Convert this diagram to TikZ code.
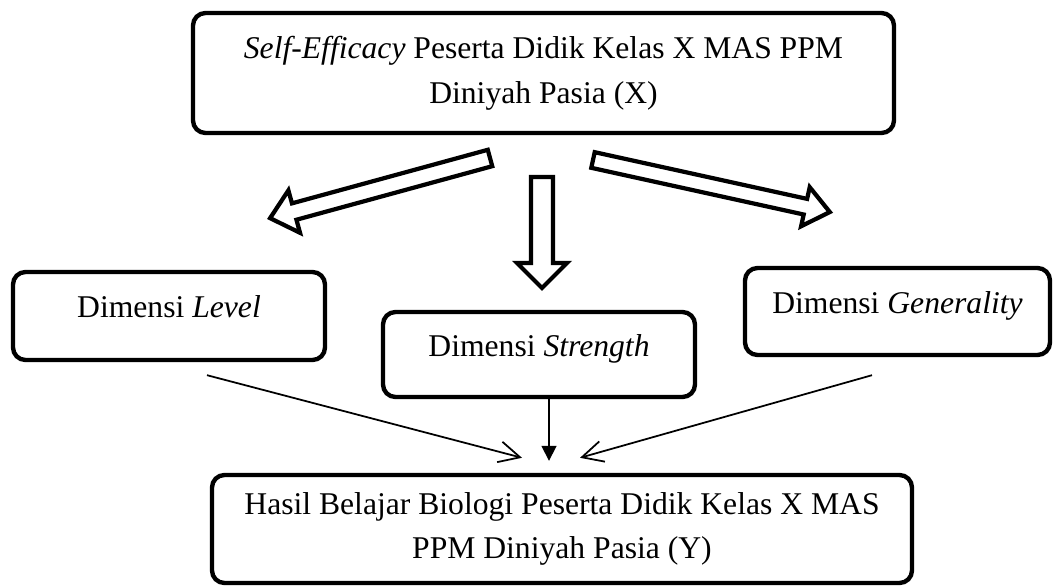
\documentclass[tikz,border=0pt]{standalone}
\usepackage{fontspec}
\setmainfont{Liberation Serif}
\usepackage{tikz}
\usetikzlibrary{arrows.meta}

\tikzset{
  box/.style={draw, rounded corners=0.25cm, line width=2.5pt, align=center, inner sep=0pt,
              font=\fontsize{18}{25.5}\selectfont},
  dimbox/.style={box, text height=12pt, text depth=10pt},
  hollow/.style={draw, line width=2.4pt, fill=white},
  thin/.style={line width=1pt}
}

\begin{document}
\begin{tikzpicture}
  \useasboundingbox (0,0) rectangle (21.06,11.74);

  \node[box, minimum width=14.02cm, minimum height=2.4cm] (x) at (10.87,10.28)
    {\textit{Self-Efficacy} Peserta Didik Kelas X MAS PPM\\ Diniyah Pasia (X)};

  \node[dimbox, minimum width=6.24cm, minimum height=1.76cm] (level) at (3.38,5.42) {Dimensi \textit{Level}};
  \node[dimbox, minimum width=6.24cm, minimum height=1.70cm] (strength) at (10.78,4.65) {Dimensi \textit{Strength}};
  \node[dimbox, minimum width=6.10cm, minimum height=1.74cm] (generality) at (17.95,5.51) {Dimensi \textit{Generality}};

  \node[box, minimum width=14.0cm, minimum height=2.16cm] (y) at (11.24,1.16)
    {Hasil Belajar Biologi Peserta Didik Kelas X MAS\\ PPM Diniyah Pasia (Y)};

  % hollow arrows under the top box
  \foreach \tx/\ty/\ang/\len/\sw/\hw in {9.80/8.58/195.3/4.56/0.17/0.44, 10.84/8.20/-90/2.22/0.22/0.5, 11.86/8.54/-12.4/4.85/0.16/0.4}
    \draw[hollow, shift={(\tx,\ty)}, rotate=\ang] (0,-\sw) -- (\len-0.5,-\sw) -- (\len-0.5,-\hw) -- (\len,0)
      -- (\len-0.5,\hw) -- (\len-0.5,\sw) -- (0,\sw) -- cycle;

  \draw[thin, -{Straight Barb[length=0.42cm, width=0.42cm]}] ([xshift=0.76cm, yshift=-0.26cm]level.south) -- ([xshift=-0.8cm, yshift=0.3cm]y.north);
  \draw[thin, -{Triangle[length=0.3cm, width=0.3cm]}] ([xshift=0.2cm]strength.south) -- ([xshift=-0.26cm, yshift=0.24cm]y.north);
  \draw[thin, -{Straight Barb[length=0.42cm, width=0.42cm]}] ([xshift=-0.51cm, yshift=-0.36cm]generality.south) -- ([xshift=0.36cm, yshift=0.3cm]y.north);
\end{tikzpicture}
\end{document}
